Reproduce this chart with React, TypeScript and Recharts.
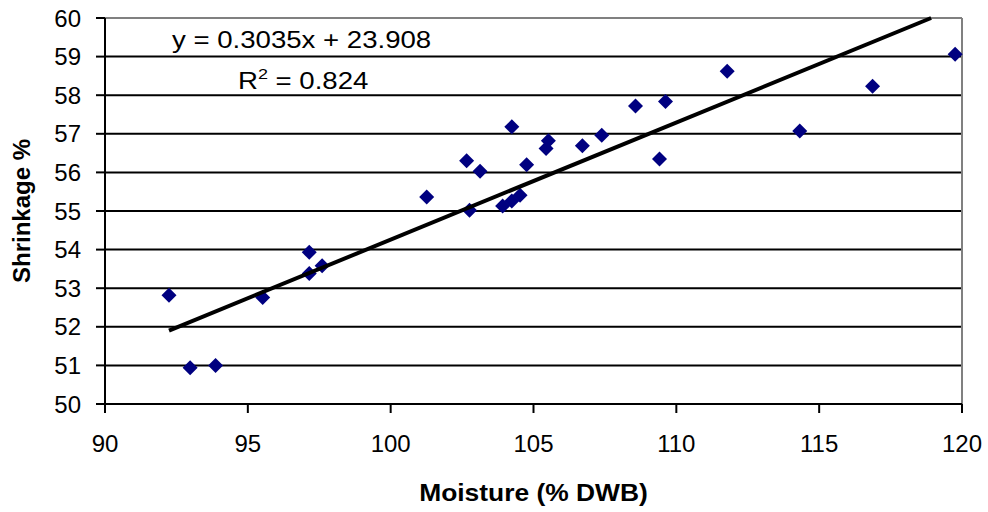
import { ScatterChart, Scatter, XAxis, YAxis, CartesianGrid, ReferenceLine, Label } from "recharts";

const moisture = [
  92.24, 92.98, 93.87, 95.52, 97.15, 97.15, 97.6, 101.26, 102.66, 103.13, 102.76, 104.24, 103.92, 104.24,
  104.53, 104.76, 105.44, 105.52, 106.71, 107.39, 108.57, 109.62, 109.41, 111.78, 114.32, 116.87, 119.76,
];
const shrinkage = [
  52.82, 50.94, 51.0, 52.76, 53.93, 53.38, 53.58, 55.36, 56.3, 56.03, 55.02, 57.18, 55.13, 55.26,
  55.41, 56.2, 56.62, 56.82, 56.69, 56.96, 57.72, 57.84, 56.35, 58.62, 57.07, 58.23, 59.06,
];
const xTicks = [90, 95, 100, 105, 110, 115, 120];
const yTicks = [50, 51, 52, 53, 54, 55, 56, 57, 58, 59, 60];

const slope = 0.3035;
const intercept = 23.908;
const trendStart = 92.24;
const trendEnd = (60 - intercept) / slope;

const points = moisture.map((x, i) => ({ x, y: shrinkage[i] }));
const trend = [trendStart, trendEnd].map((x) => ({ x, y: slope * x + intercept }));

const Diamond = (props: any) => {
  const { cx, cy } = props;
  const r = 7.5;
  return <path d={`M${cx},${cy - r}L${cx + r},${cy}L${cx},${cy + r}L${cx - r},${cy}Z`} fill="#000080" />;
};

const font = "'Liberation Sans', Arial, sans-serif";

// stretched bold title under the x axis
const XTitle = (props: any) => {
  const vb = props.viewBox || {};
  const cx = vb.x + vb.width / 2;
  return (
    <g transform={`translate(${cx} 0) scale(1.1 1)`}>
      <text x={0} y={501} textAnchor="middle" fontFamily={font} fontSize={24} fontWeight="bold" fill="#000">
        Moisture (% DWB)
      </text>
    </g>
  );
};

export default function App() {
  return (
    <div style={{ position: "relative", width: 988, height: 512, fontFamily: font }}>
      <style>{"body{margin:0}"}</style>
      <ScatterChart width={988} height={512} margin={{ top: 18, right: 26, bottom: 0, left: 0 }}>
        <CartesianGrid vertical={false} stroke="#000" strokeWidth={2} />
        <XAxis
          type="number"
          dataKey="x"
          domain={[90, 120]}
          ticks={xTicks}
          height={108}
          tickSize={9}
          tickMargin={22}
          axisLine={{ stroke: "#000", strokeWidth: 2 }}
          tickLine={{ stroke: "#000", strokeWidth: 2 }}
          tick={{ fill: "#000", fontSize: 24, fontFamily: font }}
        >
          <Label content={<XTitle />} />
        </XAxis>
        <YAxis
          type="number"
          dataKey="y"
          domain={[50, 60]}
          ticks={yTicks}
          width={105}
          tickSize={9}
          tickMargin={15}
          axisLine={{ stroke: "#000", strokeWidth: 2 }}
          tickLine={{ stroke: "#000", strokeWidth: 2 }}
          tick={{ fill: "#000", fontSize: 24, fontFamily: font }}
          label={{
            value: "Shrinkage %",
            angle: -90,
            position: "insideLeft",
            offset: 21,
            style: { textAnchor: "middle", fill: "#000", fontSize: 24, fontWeight: "bold", fontFamily: font },
          }}
        />
        <ReferenceLine y={60} stroke="#808080" strokeWidth={2} />
        <ReferenceLine x={120} stroke="#808080" strokeWidth={2} />
        <Scatter data={points} shape={<Diamond />} isAnimationActive={false} />
        <Scatter
          data={trend}
          line={{ stroke: "#000", strokeWidth: 4 }}
          shape={() => <g />}
          isAnimationActive={false}
        />
      </ScatterChart>
      <svg width={988} height={512} style={{ position: "absolute", left: 0, top: 0, pointerEvents: "none" }}>
        <g transform="translate(172 0) scale(1.2 1)" fontFamily={font} fontSize={23} fill="#000">
          <text x={0} y={48}>y = 0.3035x + 23.908</text>
        </g>
        <g transform="translate(238 0) scale(1.2 1)" fontFamily={font} fontSize={23} fill="#000">
          <text x={0} y={89}>
            R<tspan fontSize={15} dy={-10}>2</tspan>
            <tspan dy={10}> = 0.824</tspan>
          </text>
        </g>
      </svg>
    </div>
  );
}
